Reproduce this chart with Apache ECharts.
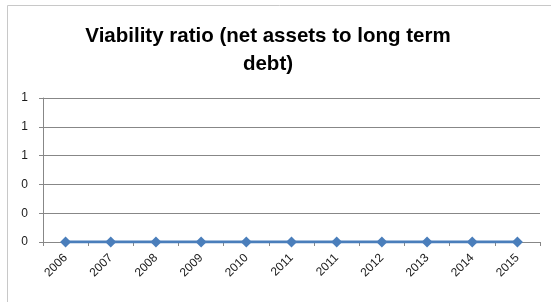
<!DOCTYPE html>
<html>
<head>
<meta charset="utf-8">
<script src="https://cdn.jsdelivr.net/npm/echarts@6/dist/echarts.min.js"></script>
<style>
html,body{margin:0;padding:0;background:#fff;}
#main{width:551px;height:302px;}
</style>
</head>
<body>
<div id="main"></div>
<script>
var categories = ['2006','2007','2008','2009','2010','2011','2011','2012','2013','2014','2015'];
var viability = [0,0,0,0,0,0,0,0,0,0,0];
var titleText = 'Viability ratio (net assets to long term\ndebt)';

var chart = echarts.init(document.getElementById('main'), null, {renderer:'canvas'});
chart.setOption({
  animation: false,
  backgroundColor: '#fff',
  graphic: [{
    type: 'rect',
    shape: {x: 7.5, y: 5.5, width: 600, height: 400},
    style: {fill: 'none', stroke: '#c8c8c8', lineWidth: 1},
    silent: true
  }],
  title: {
    text: titleText,
    left: 263,
    top: 17,
    textAlign: 'center',
    textStyle: {
      fontFamily: 'Liberation Sans',
      fontWeight: 'bold',
      fontSize: 20.5,
      lineHeight: 28,
      color: '#000'
    }
  },
  grid: {left: 43, right: 11, top: 98, bottom: 60, containLabel: false},
  xAxis: {
    type: 'category',
    data: categories,
    boundaryGap: true,
    axisLine: {lineStyle: {color: '#878787', width: 1}},
    axisTick: {show: true, alignWithLabel: false, length: 4, lineStyle: {color: '#878787'}},
    axisLabel: {rotate: 45, interval: 0, fontFamily: 'Liberation Sans', fontSize: 12, color: '#1a1a1a', margin: 14}
  },
  yAxis: {
    type: 'value',
    min: 0,
    max: 1,
    interval: 0.2,
    axisLine: {show: true, lineStyle: {color: '#878787', width: 1}},
    axisTick: {show: true, length: 4, lineStyle: {color: '#878787'}},
    splitLine: {show: true, lineStyle: {color: '#878787', width: 1}},
    axisLabel: {
      fontFamily: 'Liberation Sans', fontSize: 12, color: '#1a1a1a', margin: 15,
      formatter: function (v) { return String(Math.round(v)); }
    }
  },
  series: [{
    type: 'line',
    data: viability,
    symbol: 'diamond',
    symbolSize: 11,
    lineStyle: {color: '#4a7ebb', width: 3},
    itemStyle: {color: '#4a7ebb'}
  }]
});
</script>
</body>
</html>
